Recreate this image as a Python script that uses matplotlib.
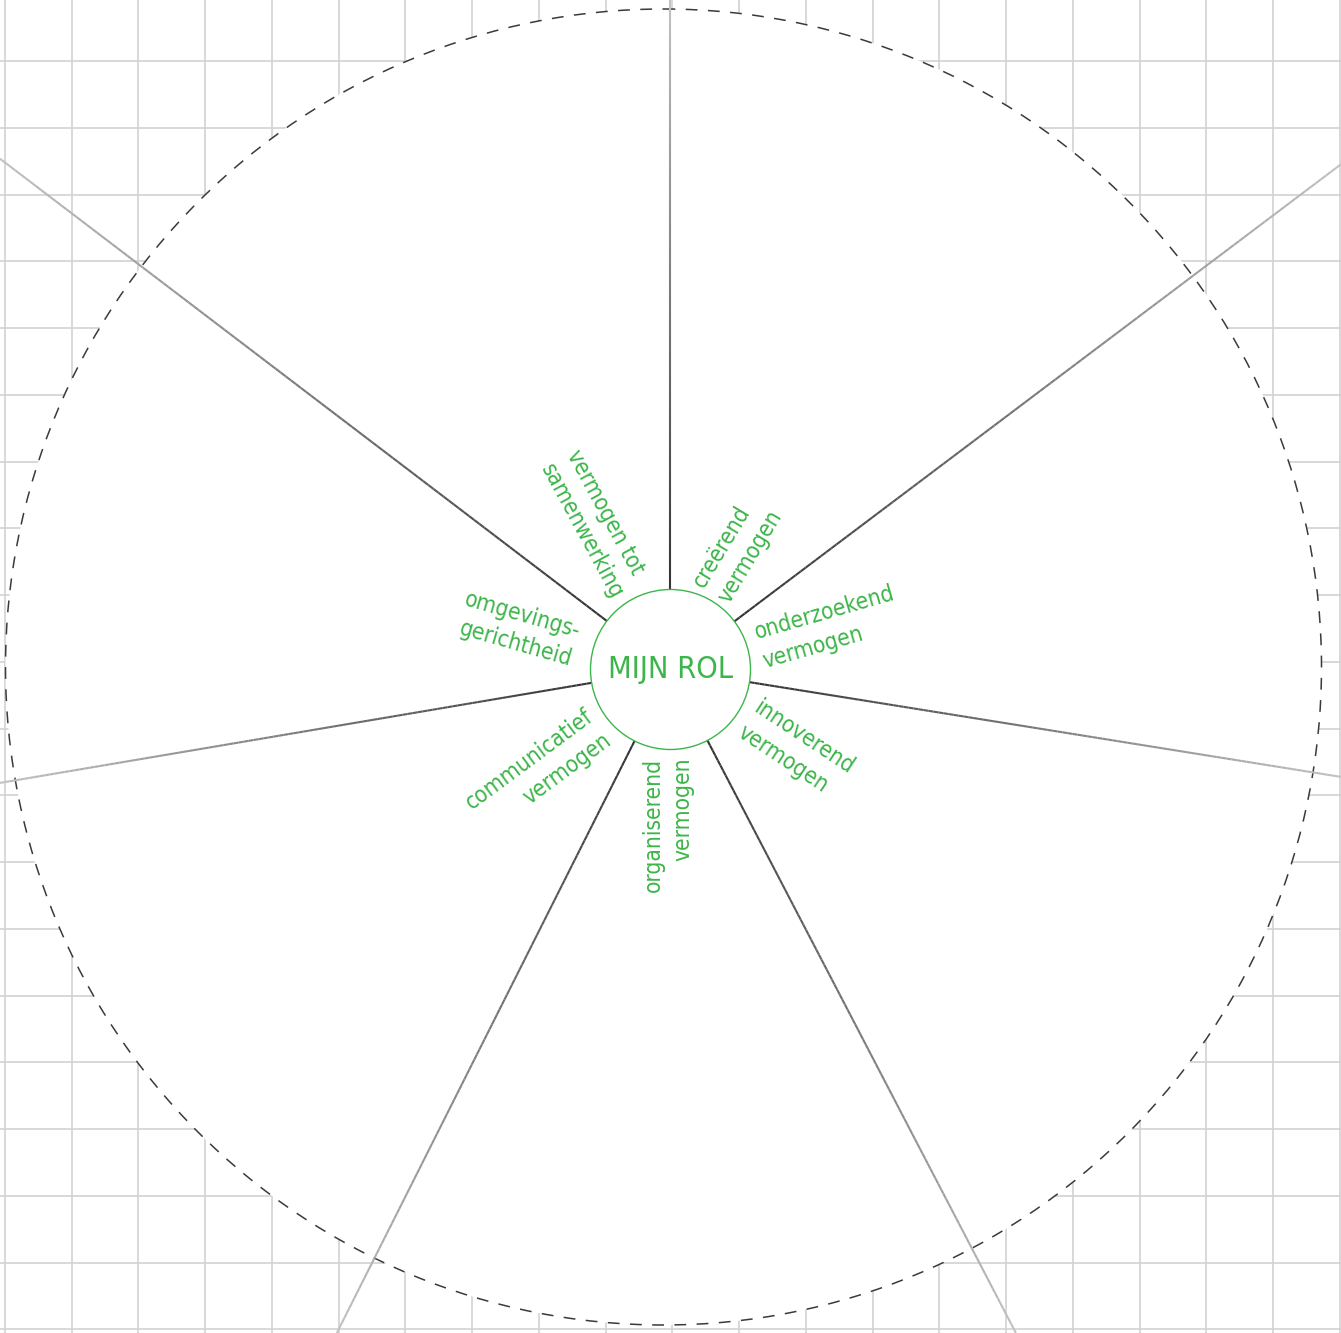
import numpy as np
import matplotlib
matplotlib.use("Agg")
import matplotlib.pyplot as plt
from matplotlib.patches import Circle
from matplotlib.collections import LineCollection
from matplotlib import font_manager

# spokes: direction of each divider in degrees (0 = right, counter clockwise)
spoke_angles = [90, 37, -9.1, -62.5, -116.7, -170.4, 142.7]

# the seven capacities written round the centre
label_texts = ["vermogen tot\nsamenwerking", "creërend\nvermogen", "onderzoekend\nvermogen",
               "innoverend\nvermogen", "organiserend\nvermogen", "communicatief\nvermogen",
               "omgevings-\ngerichtheid"]
center_text = "MIJN ROL"

# layout of the labels (polar position of the text block, rotation, alignment)
label_pos_angle = [117.4, 60.7, 14.9, -32.8, -90.9, -142.4, 165.3]
label_pos_radius = [164, 138, 163.5, 148.7, 155, 166.8, 157]
label_rotation = [-61.5, 59, 16, -33.5, 90, 36.5, -16]
label_align = ["left", "left", "left", "left", "right", "right", "right"]

W, H = 1341, 1333
GREEN = "#3db54a"

# pick a narrow font if there is one
names = {f.name for f in font_manager.fontManager.ttflist}
font_kw = {"family": "DejaVu Sans"}
cond = [f for f in font_manager.fontManager.ttflist
        if f.name == "DejaVu Sans" and "ondensed" in str(f.stretch) + f.fname]
if "Liberation Sans Narrow" in names:
    font_kw = {"family": "Liberation Sans Narrow"}
elif cond:
    font_kw = {"family": "DejaVu Sans", "stretch": "condensed"}
elif "Roboto Condensed" in names:
    font_kw = {"family": "Roboto Condensed"}

plt.rcParams["lines.scale_dashes"] = False

fig = plt.figure(figsize=(W / 100, H / 100), dpi=100)
ax = fig.add_axes([0, 0, 1, 1])
ax.set_xlim(0, W)
ax.set_ylim(H, 0)
ax.axis("off")

# background grid
for x in 5 + 66.75 * np.arange(21):
    ax.axvline(x, color="#d2d2d2", lw=1.2, zorder=1)
for y in 61 + 66.75 * np.arange(-1, 20):
    ax.axhline(y, color="#d2d2d2", lw=1.2, zorder=1)

# big dashed circle, white inside
big_c = (663.5, 667)
big_r = 658
ax.add_patch(Circle(big_c, big_r, fc="white", ec="none", zorder=2))
ax.add_patch(Circle(big_c, big_r, fill=False, ec="#3a3a3a", lw=1.1,
                    ls=(0, (8.5, 7.5)), zorder=3))

# spokes with a dark-to-light gradient
cx, cy = 670.5, 669.5
r0 = 80
dark = np.array([0.2, 0.2, 0.2])
light = np.array([0.76, 0.76, 0.76])
for a in spoke_angles:
    dx, dy = np.cos(np.radians(a)), -np.sin(np.radians(a))
    # distance until the ray leaves the picture
    ts = []
    if dx > 1e-9: ts.append((W - cx) / dx)
    if dx < -1e-9: ts.append(-cx / dx)
    if dy > 1e-9: ts.append((H - cy) / dy)
    if dy < -1e-9: ts.append(-cy / dy)
    r1 = min(ts)
    rr = np.linspace(r0, r1, 120)
    pts = np.column_stack([cx + rr * dx, cy + rr * dy])
    segs = np.stack([pts[:-1], pts[1:]], axis=1)
    t = np.linspace(0, 1, len(segs))[:, None]
    cols = dark + t * (light - dark)
    ax.add_collection(LineCollection(segs, colors=cols, linewidths=1.5, zorder=4))

# centre circle
ax.add_patch(Circle((cx, cy), r0, fc="white", ec=GREEN, lw=1.0, zorder=5))
ax.text(cx, cy, center_text, color=GREEN, fontsize=22, ha="center", va="center",
        zorder=6, **font_kw)

for txt, pa, pr, rot, al in zip(label_texts, label_pos_angle, label_pos_radius,
                                label_rotation, label_align):
    x = cx + pr * np.cos(np.radians(pa))
    y = cy - pr * np.sin(np.radians(pa))
    ax.text(x, y, txt, color=GREEN, fontsize=16.3, rotation=rot, rotation_mode="anchor",
            ha="center", va="center", multialignment=al, linespacing=1.36,
            zorder=6, **font_kw)

fig.savefig("out.png", dpi=100)
